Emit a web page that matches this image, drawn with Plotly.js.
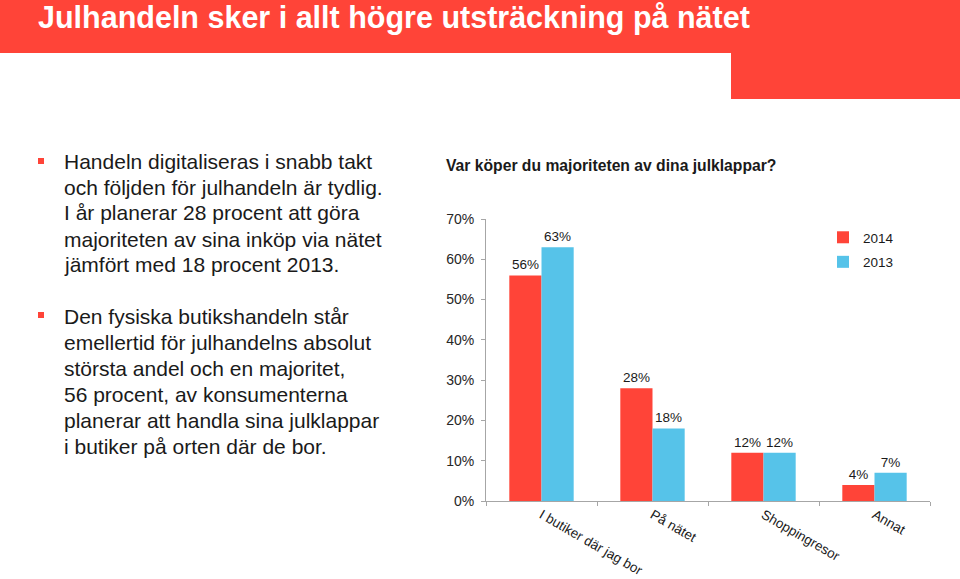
<!DOCTYPE html>
<html>
<head>
<meta charset="utf-8">
<script src="https://cdn.plot.ly/plotly-3.0.1.min.js"></script>
<style>
html,body{margin:0;padding:0;background:#fff;}
#chart{width:960px;height:579px;}
</style>
</head>
<body>
<div id="chart"></div>
<script>
// ---- data ----
const categories = ["I butiker där jag bor", "På nätet", "Shoppingresor", "Annat"];
const values2014 = [0.56, 0.28, 0.12, 0.04];
const values2013 = [0.63, 0.18, 0.12, 0.07];
const seriesNames = ["2014", "2013"];
const yTickVals = [0, 0.1, 0.2, 0.3, 0.4, 0.5, 0.6, 0.7];
const yTickText = ["0%", "10%", "20%", "30%", "40%", "50%", "60%", "70%"];

const headerTitle = "Julhandeln sker i allt högre utsträckning på nätet";
const chartTitle = "Var köper du majoriteten av dina julklappar?";
const paragraph1 = [
  "Handeln digitaliseras i snabb takt",
  "och följden för julhandeln är tydlig.",
  "I år planerar 28 procent att göra",
  "majoriteten av sina inköp via nätet",
  "jämfört med 18 procent 2013."
];
const paragraph2 = [
  "Den fysiska butikshandeln står",
  "emellertid för julhandelns absolut",
  "största andel och en majoritet,",
  "56 procent, av konsumenterna",
  "planerar att handla sina julklappar",
  "i butiker på orten där de bor."
];

// ---- styling ----
const W = 960, H = 579;
const RED = "#FF4438", BLUE = "#56C3E9";
const FONT = "Liberation Sans, Arial, sans-serif";
const px = x => x / W;
const py = y => 1 - y / H;
const pct = v => Math.round(v * 100) + "%";

const traces = [
  {type: "bar", name: seriesNames[0], x: categories, y: values2014,
   marker: {color: RED}, text: values2014.map(pct), textposition: "outside",
   textfont: {size: 13.5, color: "#1a1a1a", family: FONT}, cliponaxis: false,
   legendgroup: "a", hoverinfo: "none"},
  {type: "bar", name: seriesNames[1], x: categories, y: values2013,
   marker: {color: BLUE}, text: values2013.map(pct), textposition: "outside",
   textfont: {size: 13.5, color: "#1a1a1a", family: FONT}, cliponaxis: false,
   legendgroup: "b", hoverinfo: "none"}
];

const annotations = [
  {text: headerTitle, x: px(36), y: py(17), xref: "paper", yref: "paper",
   xanchor: "left", yanchor: "middle", showarrow: false,
   font: {family: FONT, size: 30.5, color: "#ffffff", weight: "bold"}}
];
const lineH = 26;
paragraph1.forEach((t, i) => annotations.push({
  text: t, x: px(62), y: py(161 + i * lineH), xref: "paper", yref: "paper",
  xanchor: "left", yanchor: "middle", showarrow: false,
  font: {family: FONT, size: 21, color: "#1a1a1a"}}));
paragraph2.forEach((t, i) => annotations.push({
  text: t, x: px(62), y: py(316 + i * lineH), xref: "paper", yref: "paper",
  xanchor: "left", yanchor: "middle", showarrow: false,
  font: {family: FONT, size: 21, color: "#1a1a1a"}}));

const shapes = [
  {type: "rect", xref: "paper", yref: "paper", x0: 0, x1: 1, y0: py(53), y1: 1,
   fillcolor: RED, line: {width: 0}, layer: "below"},
  {type: "rect", xref: "paper", yref: "paper", x0: px(731), x1: 1, y0: py(99), y1: 1,
   fillcolor: RED, line: {width: 0}, layer: "below"},
  {type: "rect", xref: "paper", yref: "paper", x0: px(38), x1: px(44), y0: py(164), y1: py(158),
   fillcolor: RED, line: {width: 0}},
  {type: "rect", xref: "paper", yref: "paper", x0: px(38), x1: px(44), y0: py(318), y1: py(312),
   fillcolor: RED, line: {width: 0}}
];

const layout = {
  width: W, height: H,
  margin: {l: 0, r: 0, t: 0, b: 0},
  paper_bgcolor: "#ffffff", plot_bgcolor: "rgba(0,0,0,0)",
  font: {family: FONT, color: "#1a1a1a"},
  title: {text: "<b>" + chartTitle + "</b>", xref: "paper", yref: "paper",
          x: px(446), xanchor: "left", y: py(166), yanchor: "middle",
          font: {family: FONT, size: 15.7, color: "#1a1a1a"}},
  barmode: "group", bargap: 0.42, bargroupgap: 0,
  xaxis: {domain: [px(486), px(930)], type: "category",
          showline: true, linecolor: "#a6a6a6", linewidth: 1,
          ticks: "outside", tickson: "boundaries", ticklen: 4, tickcolor: "#a6a6a6",
          tickangle: 30, tickfont: {size: 13.5, color: "#1a1a1a"},
          showgrid: false, zeroline: false, fixedrange: true},
  yaxis: {domain: [1 - 501 / H, 1 - 219 / H], range: [0, 0.7],
          tickvals: yTickVals, ticktext: yTickText,
          showline: true, linecolor: "#a6a6a6", linewidth: 1,
          ticks: "outside", ticklen: 4, tickcolor: "#a6a6a6", ticklabelstandoff: 4,
          tickfont: {size: 14, color: "#262626"},
          showgrid: false, zeroline: false, fixedrange: true},
  showlegend: true,
  legend: {x: px(823), y: py(222), xanchor: "left", yanchor: "top",
           bgcolor: "rgba(0,0,0,0)", font: {size: 13.5, color: "#1a1a1a"},
           traceorder: "grouped", tracegroupgap: 4, itemwidth: 30},
  annotations: annotations,
  shapes: shapes
};

Plotly.newPlot("chart", traces, layout, {displayModeBar: false, staticPlot: true});
</script>
</body>
</html>
